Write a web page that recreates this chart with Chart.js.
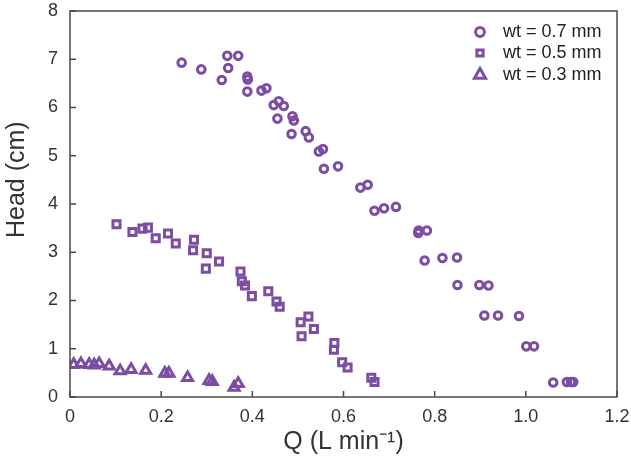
<!DOCTYPE html>
<html>
<head>
<meta charset="utf-8">
<script src="https://cdn.jsdelivr.net/npm/chart.js@4/dist/chart.umd.min.js"></script>
<style>
  html, body { margin: 0; padding: 0; background: #fff; }
</style>
</head>
<body>
<canvas id="my-canvas" width="631" height="460"></canvas>
<script>
// wt = 0.7 mm (circles)
const q07 = [0.245, 0.288, 0.333, 0.345, 0.347, 0.369, 0.389, 0.390, 0.389, 0.420, 0.431, 0.447, 0.455, 0.458, 0.469, 0.486, 0.488, 0.491, 0.517, 0.524, 0.546, 0.555, 0.557, 0.588, 0.637, 0.653, 0.668, 0.689, 0.715, 0.764, 0.765, 0.778, 0.783, 0.817, 0.849, 0.850, 0.898, 0.909, 0.918, 0.939, 0.985, 1.001, 1.018, 1.060, 1.090, 1.099, 1.104];
const h07 = [6.93, 6.79, 6.57, 7.07, 6.82, 7.07, 6.64, 6.58, 6.33, 6.35, 6.40, 6.05, 5.77, 6.13, 6.03, 5.45, 5.82, 5.73, 5.51, 5.38, 5.09, 5.14, 4.73, 4.78, 4.34, 4.40, 3.86, 3.91, 3.94, 3.40, 3.45, 2.83, 3.45, 2.88, 2.89, 2.32, 2.32, 1.69, 2.31, 1.69, 1.68, 1.05, 1.05, 0.30, 0.31, 0.31, 0.31];

// wt = 0.5 mm (squares)
const q05 = [0.102, 0.137, 0.159, 0.171, 0.188, 0.215, 0.232, 0.270, 0.272, 0.298, 0.300, 0.327, 0.374, 0.377, 0.384, 0.399, 0.435, 0.453, 0.460, 0.506, 0.508, 0.523, 0.535, 0.579, 0.580, 0.597, 0.609, 0.661, 0.668];
const h05 = [3.58, 3.42, 3.49, 3.51, 3.29, 3.39, 3.18, 3.04, 3.26, 2.66, 2.98, 2.81, 2.60, 2.40, 2.31, 2.09, 2.19, 1.98, 1.87, 1.55, 1.26, 1.67, 1.41, 0.98, 1.12, 0.72, 0.61, 0.40, 0.31];

// wt = 0.3 mm (triangles)
const q03 = [0.008, 0.024, 0.042, 0.053, 0.064, 0.086, 0.110, 0.134, 0.166, 0.208, 0.217, 0.258, 0.305, 0.312, 0.360, 0.369];
const h03 = [0.67, 0.69, 0.67, 0.66, 0.69, 0.64, 0.54, 0.57, 0.55, 0.49, 0.49, 0.40, 0.34, 0.32, 0.20, 0.28];

const seriesLabels = ['wt = 0.7 mm', 'wt = 0.5 mm', 'wt = 0.3 mm'];
const xTickLabels = ['0', '0.2', '0.4', '0.6', '0.8', '1.0', '1.2'];
const yTickLabels = ['0', '1', '2', '3', '4', '5', '6', '7', '8'];

const purple = '#7b4ea3';
const axisColor = '#4a4a4a';
const fontFamily = '"Liberation Sans", Arial, sans-serif';

function toPoints(xs, ys) {
  return xs.map((x, i) => ({ x: x, y: ys[i] }));
}

// box around the plot plus inward ticks
const frameTicks = {
  id: 'frameTicks',
  afterDraw(chart) {
    const ctx = chart.ctx;
    const a = chart.chartArea;
    const xs = chart.scales.x;
    const ys = chart.scales.y;
    ctx.save();
    ctx.strokeStyle = axisColor;
    ctx.lineWidth = 1.5;
    ctx.strokeRect(a.left, a.top, a.right - a.left, a.bottom - a.top);
    ctx.beginPath();
    xs.ticks.forEach(t => {
      const px = xs.getPixelForValue(t.value);
      ctx.moveTo(px, a.bottom);
      ctx.lineTo(px, a.bottom - 6);
    });
    ys.ticks.forEach(t => {
      const py = ys.getPixelForValue(t.value);
      ctx.moveTo(a.left, py);
      ctx.lineTo(a.left + 6, py);
    });
    ctx.stroke();
    ctx.restore();
  }
};

// legend in the top right corner of the plot
const cornerLegend = {
  id: 'cornerLegend',
  afterDraw(chart) {
    const ctx = chart.ctx;
    const a = chart.chartArea;
    const rows = [a.top + 21, a.top + 42, a.top + 64];
    ctx.save();
    chart.data.datasets.forEach((ds, i) => {
      ctx.strokeStyle = purple;
      ctx.fillStyle = 'rgba(0,0,0,0)';
      ctx.lineWidth = 3;
      Chart.helpers.drawPoint(ctx, {
        pointStyle: ds.pointStyle,
        radius: ds.legendRadius,
        rotation: 0,
        borderWidth: 3
      }, a.right - 137, rows[i]);
      ctx.fillStyle = '#222';
      ctx.font = '18px ' + fontFamily;
      ctx.textBaseline = 'middle';
      ctx.textAlign = 'left';
      ctx.fillText(ds.label, a.right - 114, rows[i]);
    });
    ctx.restore();
  }
};

const ctx = document.getElementById('my-canvas').getContext('2d');
const chart = new Chart(ctx, {
  type: 'scatter',
  data: {
    datasets: [
      {
        label: seriesLabels[0],
        data: toPoints(q07, h07),
        pointStyle: 'circle',
        pointRadius: 3.8,
        legendRadius: 4.4,
        pointBorderWidth: 3,
        borderColor: purple,
        backgroundColor: 'rgba(0,0,0,0)'
      },
      {
        label: seriesLabels[1],
        data: toPoints(q05, h05),
        pointStyle: 'rect',
        pointRadius: 5,
        legendRadius: 4.4,
        pointBorderWidth: 3,
        borderColor: purple,
        backgroundColor: 'rgba(0,0,0,0)'
      },
      {
        label: seriesLabels[2],
        data: toPoints(q03, h03),
        pointStyle: 'triangle',
        pointRadius: 5.8,
        legendRadius: 6.4,
        pointBorderWidth: 3,
        borderColor: purple,
        backgroundColor: 'rgba(0,0,0,0)'
      }
    ]
  },
  options: {
    responsive: false,
    animation: false,
    devicePixelRatio: 1,
    layout: { padding: { top: 11, right: 14, left: 0, bottom: 0 } },
    plugins: {
      legend: { display: false },
      tooltip: { enabled: false }
    },
    scales: {
      x: {
        type: 'linear',
        min: 0,
        max: 1.2,
        afterFit(scale) {
          scale.height = 63;
          scale.paddingLeft = 0;
          scale.paddingRight = 0;
        },
        grid: { display: false, drawTicks: false },
        border: { display: false },
        ticks: {
          stepSize: 0.2,
          padding: 9,
          color: '#333',
          font: { family: fontFamily, size: 18 },
          maxRotation: 0,
          callback: (v, i) => xTickLabels[i]
        },
        title: {
          display: true,
          text: 'Q (L min\u207B\u00B9)',
          color: '#333',
          font: { family: fontFamily, size: 25 },
          padding: { top: 0, bottom: 3 }
        }
      },
      y: {
        type: 'linear',
        min: 0,
        max: 8,
        afterFit(scale) {
          scale.width = 70;
          scale.paddingTop = 0;
          scale.paddingBottom = 0;
        },
        grid: { display: false, drawTicks: false },
        border: { display: false },
        ticks: {
          stepSize: 1,
          padding: 12,
          color: '#333',
          font: { family: fontFamily, size: 18 },
          callback: (v, i) => yTickLabels[i]
        },
        title: {
          display: true,
          text: '       Head (cm)',
          color: '#333',
          font: { family: fontFamily, size: 25 },
          padding: { top: 2, bottom: 0 }
        }
      }
    }
  },
  plugins: [frameTicks, cornerLegend]
});
</script>
</body>
</html>
